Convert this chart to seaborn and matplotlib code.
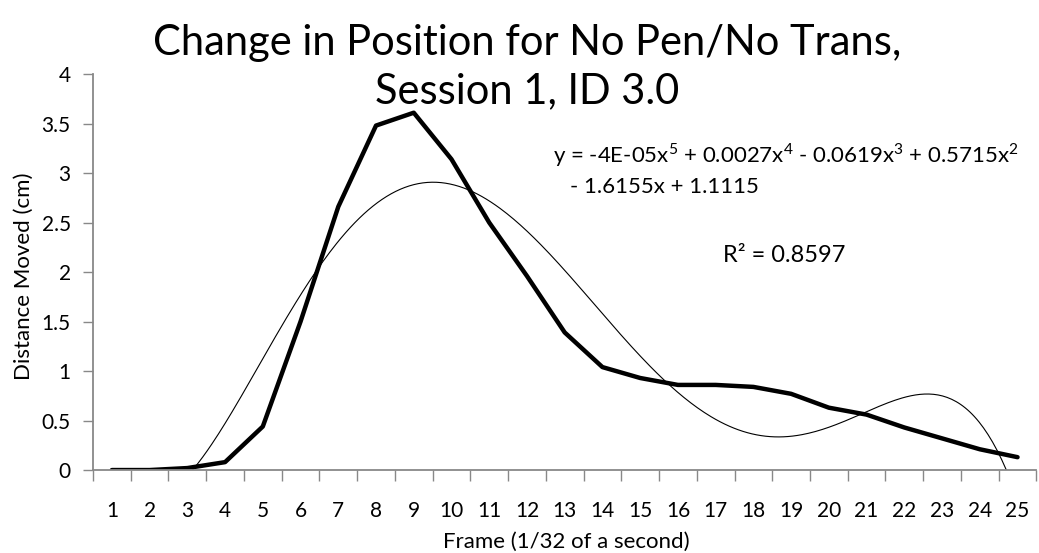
import numpy as np
import pandas as pd
import matplotlib
matplotlib.use("Agg")
import matplotlib.pyplot as plt
import seaborn as sns

# values
frames = list(range(1, 26))
distance = [0.0, 0.0, 0.02, 0.08, 0.44, 1.50, 2.66, 3.48, 3.61, 3.14,
            2.50, 1.96, 1.39, 1.04, 0.93, 0.86, 0.86, 0.84, 0.77, 0.63,
            0.56, 0.43, 0.32, 0.21, 0.13]
y_ticks = [0, 0.5, 1, 1.5, 2, 2.5, 3, 3.5, 4]
eq_line1 = "y = -4E-05x$^5$ + 0.0027x$^4$ - 0.0619x$^3$ + 0.5715x$^2$"
eq_line2 = "- 1.6155x + 1.1115"
r2_text = "R² = 0.8597"

sns.set_theme(style="white")
plt.rcParams['font.family'] = ['Lato', 'DejaVu Sans']
plt.rcParams['mathtext.fontset'] = 'custom'
plt.rcParams['mathtext.rm'] = 'Lato'
plt.rcParams['text.color'] = 'black'
plt.rcParams['xtick.labelcolor'] = 'black'
plt.rcParams['ytick.labelcolor'] = 'black'

df = pd.DataFrame({"frame": frames, "distance": distance})

# 5th order polynomial trendline fitted to the data
coef = np.polyfit(df["frame"], df["distance"], 5)
xs = np.linspace(1, 25, 400)
trend = pd.DataFrame({"frame": xs, "fit": np.polyval(coef, xs)})

fig = plt.figure(figsize=(10.39, 5.53), dpi=100)
ax = fig.add_axes([0.0895, 0.150, 0.908, 0.716])

sns.lineplot(data=df, x="frame", y="distance", color="black", linewidth=3.2, ax=ax)
sns.lineplot(data=trend, x="frame", y="fit", color="black", linewidth=0.8, ax=ax)

ax.set_xlim(0.5, 25.5)
ax.set_ylim(0, 4)
ax.set_yticks(y_ticks)
ax.set_yticklabels([f"{v:g}" for v in y_ticks], fontsize=15)
ax.set_xticks(frames)
ax.set_xticklabels([str(f) for f in frames], fontsize=15)
ax.set_xticks(np.arange(0.5, 26, 1), minor=True)
ax.tick_params(axis="x", which="major", length=0, pad=22)
ax.tick_params(axis="x", which="minor", length=8, width=1, color="#888888", direction="out", bottom=True)
ax.tick_params(axis="y", length=7, width=1, color="#888888", direction="out", left=True, pad=9)
ax.set_xlabel("")
ax.set_ylabel("")
for s in ["top", "right"]:
    ax.spines[s].set_visible(False)
for s in ["left", "bottom"]:
    ax.spines[s].set_color("#888888")
    ax.spines[s].set_linewidth(1.3)

fig.text(0.507, 1 - 43 / 553, "Change in Position for No Pen/No Trans,",
         ha="center", va="center", fontsize=30)
fig.text(0.507, 1 - 91 / 553, "Session 1, ID 3.0",
         ha="center", va="center", fontsize=30)
fig.text(0.545, 1 - 542 / 553, "Frame (1/32 of a second)", ha="center", va="center", fontsize=16)
fig.text(0.023, 0.50, "Distance Moved (cm)", ha="center", va="center", rotation=90, fontsize=16)
fig.text(553 / 1039, 1 - 155 / 553, eq_line1, fontsize=16, va="center", ha="left")
fig.text(570 / 1039, 1 - 187 / 553, eq_line2, fontsize=16, va="center", ha="left")
fig.text(723 / 1039, 1 - 255 / 553, r2_text, fontsize=17, va="center", ha="left")

fig.savefig("out.png", dpi=100)
